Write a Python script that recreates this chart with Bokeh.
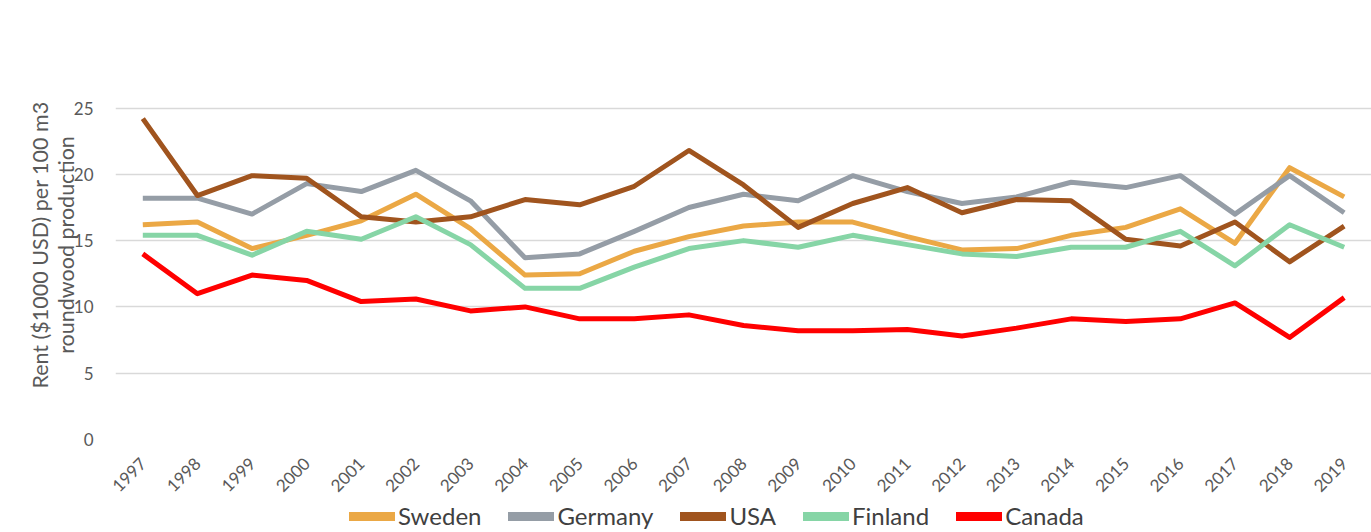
import math
from bokeh.plotting import figure
from bokeh.layouts import column
from bokeh.models import Range1d, FactorRange, Legend, LegendItem, FixedTicker
from bokeh.embed import file_html
from bokeh.resources import INLINE

years = [str(y) for y in range(1997, 2020)]
sweden = [16.2, 16.4, 14.4, 15.4, 16.5, 18.5, 15.9, 12.4, 12.5, 14.2, 15.3,
          16.1, 16.4, 16.4, 15.3, 14.3, 14.4, 15.4, 16.0, 17.4, 14.8, 20.5, 18.3]
germany = [18.2, 18.2, 17.0, 19.3, 18.7, 20.3, 18.0, 13.7, 14.0, 15.7, 17.5,
           18.5, 18.0, 19.9, 18.7, 17.8, 18.3, 19.4, 19.0, 19.9, 17.0, 19.9, 17.1]
usa = [24.2, 18.4, 19.9, 19.7, 16.8, 16.4, 16.8, 18.1, 17.7, 19.1, 21.8,
       19.2, 16.0, 17.8, 19.0, 17.1, 18.1, 18.0, 15.1, 14.6, 16.4, 13.4, 16.1]
finland = [15.4, 15.4, 13.9, 15.7, 15.1, 16.8, 14.7, 11.4, 11.4, 13.0, 14.4,
           15.0, 14.5, 15.4, 14.7, 14.0, 13.8, 14.5, 14.5, 15.7, 13.1, 16.2, 14.5]
canada = [14.0, 11.0, 12.4, 12.0, 10.4, 10.6, 9.7, 10.0, 9.1, 9.1, 9.4,
          8.6, 8.2, 8.2, 8.3, 7.8, 8.4, 9.1, 8.9, 9.1, 10.3, 7.7, 10.7]

series = [("Sweden", sweden, "#EBA845"),
          ("Germany", germany, "#959DA6"),
          ("USA", usa, "#A0541E"),
          ("Finland", finland, "#86D5A6"),
          ("Canada", canada, "#FF0000")]

FONT = "Lato"

p = figure(width=1371, height=500, output_backend="svg", toolbar_location=None,
           x_range=FactorRange(*years, range_padding=0),
           y_range=Range1d(0, 29.34),
           min_border_left=115, min_border_right=0, min_border_top=50,
           min_border_bottom=58)
p.outline_line_color = None
p.background_fill_color = "white"
p.border_fill_color = "white"

p.xgrid.grid_line_color = None
p.ygrid.grid_line_color = "#D9D9D9"
p.ygrid.grid_line_width = 1.5
p.yaxis.ticker = FixedTicker(ticks=[0, 5, 10, 15, 20, 25])

for ax in (p.xaxis[0], p.yaxis[0]):
    ax.axis_line_color = None
    ax.major_tick_line_color = None
    ax.minor_tick_line_color = None
    ax.major_label_text_font = FONT
    ax.major_label_text_color = "#595959"

p.yaxis.major_label_text_font_size = "17px"
p.xaxis.major_label_text_font_size = "17px"
p.xaxis.major_label_orientation = math.pi / 4
p.xaxis.major_label_standoff = 15
p.yaxis.major_label_standoff = 16
p.yaxis.axis_label = "Rent ($1000 USD) per 100 m3\nroundwood production"
p.yaxis.axis_label_text_font = FONT
p.yaxis.axis_label_text_font_style = "normal"
p.yaxis.axis_label_text_font_size = "21.5px"
p.yaxis.axis_label_text_color = "#595959"
p.yaxis.axis_label_text_line_height = 0.98
p.yaxis.axis_label_standoff = -8

for name, vals, color in series:
    p.line(years, vals, line_color=color, line_width=5, line_join="round")

# legend strip below the chart (its own copies of the series sit outside its view)
lg = figure(width=1371, height=32, output_backend="svg", toolbar_location=None,
            x_axis_type=None, y_axis_type=None,
            x_range=FactorRange(*years, range_padding=0), y_range=Range1d(100, 101),
            min_border_left=115, min_border_right=0, min_border_top=0, min_border_bottom=0)
lg.outline_line_color = None
lg.xgrid.grid_line_color = None
lg.ygrid.grid_line_color = None
lg.background_fill_color = "white"
lg.border_fill_color = "white"

items = []
for name, vals, color in series:
    r = lg.line(years, vals, line_color=color, line_width=9, line_cap="round")
    items.append(LegendItem(label=name, renderers=[r]))

legend = Legend(items=items, orientation="horizontal", location=(234, 2))
legend.label_text_font = FONT
legend.label_text_font_size = "24px"
legend.label_text_color = "#404040"
legend.glyph_width = 46
legend.glyph_height = 26
legend.label_standoff = 3
legend.spacing = 27
legend.padding = 0
legend.margin = 0
legend.border_line_color = None
legend.background_fill_alpha = 0
lg.add_layout(legend)

layout = column(p, lg, spacing=0)
open("out.html", "w").write(file_html(layout, INLINE))
